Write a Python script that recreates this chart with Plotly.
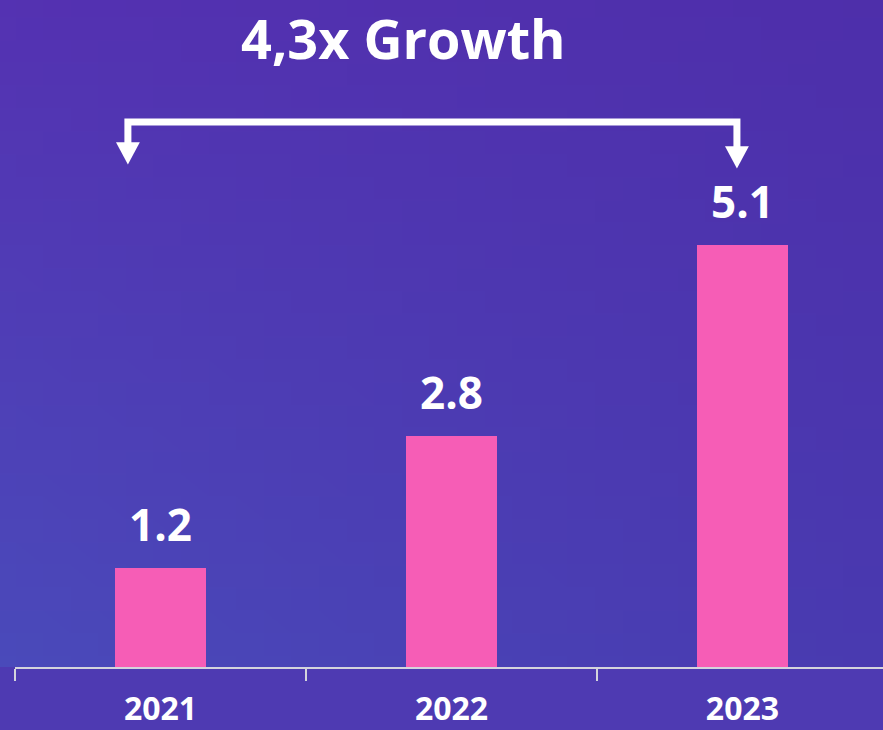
import base64, struct, zlib
import plotly.graph_objects as go

# ---- data ----
years = ["2021", "2022", "2023"]
values = [1.2, 2.8, 5.1]
value_labels = ["1.2", "2.8", "5.1"]
title_text = "4,3x Growth"

BAR = "#f65db6"
WHITE = "#ffffff"
AXIS = "#d4d4dc"
FONT = "Open Sans"

# ---- background gradient image (bilinear corners) ----
def make_png(w, h, corners):
    tl, tr, bl, br = corners
    raw = b""
    for j in range(h):
        fy = j / (h - 1)
        raw += b"\x00"
        for i in range(w):
            fx = i / (w - 1)
            px = []
            for c in range(3):
                top = tl[c] * (1 - fx) + tr[c] * fx
                bot = bl[c] * (1 - fx) + br[c] * fx
                px.append(int(round(top * (1 - fy) + bot * fy)))
            raw += bytes(px)
    def chunk(t, d):
        c = struct.pack(">I", len(d)) + t + d
        return c + struct.pack(">I", zlib.crc32(t + d) & 0xffffffff)
    png = b"\x89PNG\r\n\x1a\n"
    png += chunk(b"IHDR", struct.pack(">IIBBBBB", w, h, 8, 2, 0, 0, 0))
    png += chunk(b"IDAT", zlib.compress(raw))
    png += chunk(b"IEND", b"")
    return "data:image/png;base64," + base64.b64encode(png).decode()

bg = make_png(32, 32, [(0x55, 0x30, 0xb1), (0x4e, 0x2e, 0xaa),
                       (0x4a, 0x4a, 0xba), (0x49, 0x3a, 0xb0)])

fig = go.Figure()
fig.add_trace(go.Bar(x=years, y=values, width=0.313, marker=dict(color=BAR, line=dict(width=0)),
                     hoverinfo="skip"))

# value labels above bars (x given as category index)
for i, (v, lab) in enumerate(zip(values, value_labels)):
    fig.add_annotation(x=i, y=v, xref="x", yref="y", text=f"<b>{lab}</b>", showarrow=False,
                       yanchor="bottom", yshift=12,
                       font=dict(family=FONT, size=44, color=WHITE))

# title
fig.add_annotation(x=(403 - 15) / 868, y=(667 - 38) / 667, xref="paper", yref="paper",
                   text=f"<b>{title_text}</b>", showarrow=False, yanchor="middle",
                   font=dict(family=FONT, size=54, color=WHITE))

# bracket with arrows
yh = 6.594
xl, xr = -0.112, 1.981
fig.add_shape(type="path", xref="x", yref="y",
              path=f"M {xl},{6.32} L {xl},{yh} L {xr},{yh} L {xr},{6.28}",
              line=dict(color=WHITE, width=7), fillcolor="rgba(0,0,0,0)")
dx = 0.041
for x, yt, yb in [(xl, 6.35, 6.08), (xr, 6.30, 6.03)]:
    fig.add_shape(type="path", xref="x", yref="y",
                  path=f"M {x-dx},{yt} L {x+dx},{yt} L {x},{yb} Z",
                  line=dict(color=WHITE, width=0), fillcolor=WHITE)

fig.add_layout_image(source=bg, xref="paper", yref="paper", x=-15/868, y=730/667,
                     sizex=883/868, sizey=730/667, sizing="stretch", layer="below",
                     xanchor="left", yanchor="top")

fig.update_layout(
    width=883, height=730,
    margin=dict(l=15, r=0, t=0, b=63),
    paper_bgcolor="#4e3ab2", plot_bgcolor="rgba(0,0,0,0)",
    showlegend=False, bargap=0,
    xaxis=dict(type="category", range=[-0.5, 2.483], showline=True, linecolor=AXIS, linewidth=2,
               ticks="outside", ticklen=12, tickwidth=2, tickcolor=AXIS, tickson="boundaries",
               showgrid=False, zeroline=False, ticklabelstandoff=13, automargin=False,
               tickfont=dict(family=FONT, size=32, color=WHITE)),
    yaxis=dict(range=[0, 8.07], visible=False, showgrid=False, zeroline=False, automargin=False),
)
fig.update_xaxes(ticktext=[f"<b>{y}</b>" for y in years], tickvals=years)

fig.write_html("out.html", config={"displayModeBar": False},
               post_script="document.body.style.margin='0';document.body.style.overflow='hidden';")
